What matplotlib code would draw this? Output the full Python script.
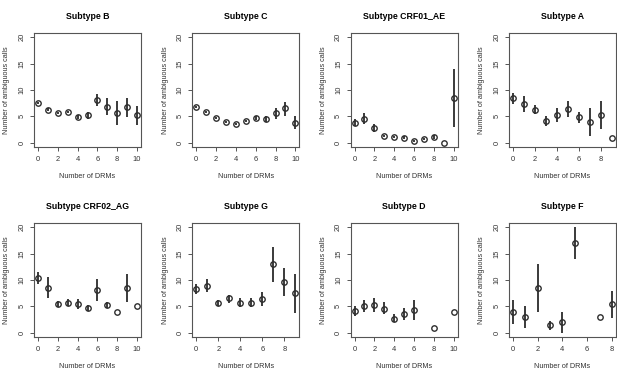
import matplotlib
matplotlib.use("Agg")
import matplotlib.pyplot as plt
import numpy as np

plt.rcParams['font.family'] = ['Liberation Sans', 'DejaVu Sans']

# Number of ambiguous calls by number of DRMs (mean and interval), per subtype
titles = ["Subtype B", "Subtype C", "Subtype CRF01_AE", "Subtype A",
          "Subtype CRF02_AG", "Subtype G", "Subtype D", "Subtype F"]

x_b = [0, 1, 2, 3, 4, 5, 6, 7, 8, 9, 10]
mean_b = [7.5, 6.3, 5.7, 5.9, 4.9, 5.3, 8.2, 6.8, 5.6, 6.8, 5.2]
lo_b = [7.3, 6.0, 5.4, 5.6, 4.6, 4.6, 7.0, 5.2, 3.3, 4.9, 3.4]
hi_b = [7.7, 6.5, 5.9, 6.1, 5.2, 5.9, 9.3, 8.4, 8.0, 8.5, 6.9]

x_c = [0, 1, 2, 3, 4, 5, 6, 7, 8, 9, 10]
mean_c = [6.8, 5.9, 4.7, 4.0, 3.6, 4.2, 4.7, 4.5, 5.6, 6.5, 3.8]
lo_c = [6.6, 5.7, 4.5, 3.8, 3.4, 4.0, 4.4, 3.9, 4.5, 5.1, 2.7]
hi_c = [7.0, 6.1, 4.9, 4.2, 3.8, 4.4, 5.0, 5.0, 6.5, 7.8, 5.0]

x_ae = [0, 1, 2, 3, 4, 5, 6, 7, 8, 9, 10]
mean_ae = [3.8, 4.5, 2.8, 1.3, 1.1, 1.0, 0.4, 0.7, 1.1, 0.0, 8.5]
lo_ae = [3.1, 3.6, 2.1, 1.1, 0.9, 0.8, 0.2, 0.5, 0.8, 0.0, 2.9]
hi_ae = [4.6, 5.6, 3.6, 1.5, 1.3, 1.2, 0.6, 0.9, 1.4, 0.0, 14.0]

x_a = [0, 1, 2, 3, 4, 5, 6, 7, 8, 9]
mean_a = [8.5, 7.4, 6.3, 4.1, 5.2, 6.4, 4.9, 4.0, 5.3, 1.0]
lo_a = [7.4, 5.8, 5.4, 3.2, 4.0, 4.9, 3.7, 1.3, 2.6, 1.0]
hi_a = [9.5, 8.9, 7.1, 5.0, 6.5, 7.9, 5.9, 6.6, 8.0, 1.0]

x_ag = [0, 1, 2, 3, 4, 5, 6, 7, 8, 9, 10]
mean_ag = [10.4, 8.4, 5.4, 5.7, 5.4, 4.7, 8.1, 5.2, 4.0, 8.5, 5.0]
lo_ag = [9.2, 6.5, 4.9, 5.0, 4.5, 4.1, 6.0, 4.7, 4.0, 5.8, 5.0]
hi_ag = [11.6, 10.5, 6.0, 6.4, 6.4, 5.3, 10.1, 5.8, 4.0, 11.2, 5.0]

x_g = [0, 1, 2, 3, 4, 5, 6, 7, 8, 9]
mean_g = [8.3, 8.9, 5.7, 6.5, 5.7, 5.7, 6.4, 13.0, 9.7, 7.5]
lo_g = [7.3, 7.7, 5.0, 5.7, 4.8, 4.9, 5.1, 9.7, 7.0, 3.7]
hi_g = [9.3, 10.1, 6.3, 7.2, 6.5, 6.5, 7.7, 16.2, 12.3, 11.2]

x_d = [0, 1, 2, 3, 4, 5, 6, 8, 10]
mean_d = [4.1, 5.1, 5.3, 4.6, 2.7, 3.6, 4.4, 1.0, 4.0]
lo_d = [3.1, 4.0, 4.0, 3.5, 2.0, 2.4, 2.4, 1.0, 4.0]
hi_d = [5.1, 6.3, 6.6, 5.8, 3.5, 4.7, 6.3, 1.0, 4.0]

x_f = [0, 1, 2, 3, 4, 5, 7, 8]
mean_f = [4.0, 3.0, 8.5, 1.4, 2.0, 17.1, 3.0, 5.5]
lo_f = [1.7, 0.9, 4.0, 0.6, 0.0, 13.9, 3.0, 2.8]
hi_f = [6.3, 5.0, 13.0, 2.2, 4.0, 20.0, 3.0, 8.0]

x_max = [10, 10, 10, 9, 10, 9, 10, 8]

panels = [(x_b, mean_b, lo_b, hi_b), (x_c, mean_c, lo_c, hi_c),
          (x_ae, mean_ae, lo_ae, hi_ae), (x_a, mean_a, lo_a, hi_a),
          (x_ag, mean_ag, lo_ag, hi_ag), (x_g, mean_g, lo_g, hi_g),
          (x_d, mean_d, lo_d, hi_d), (x_f, mean_f, lo_f, hi_f)]

W, H = 617, 380
fig = plt.figure(figsize=(W / 100, H / 100), dpi=100)

frame_col = "#555555"
text_col = "#333333"

for i, (x, m, lo, hi) in enumerate(panels):
    row, col = divmod(i, 4)
    left = 34 + col * 158.3
    top = 33 + row * 190
    ax = fig.add_axes([left / W, 1 - (top + 114) / H, 107 / W, 114 / H])

    x = np.array(x)
    m = np.array(m)
    err = [m - np.array(lo), np.array(hi) - m]
    ax.errorbar(x, m, yerr=err, fmt='none', ecolor="#3a3a3a",
                elinewidth=1.4, capsize=0, zorder=2)
    ax.plot(x, m, 'o', ms=3.9, mfc='none', mec="#2e2e2e", mew=1.0, zorder=3)

    xm = x_max[i]
    ax.set_xlim(-0.04 * xm, xm * 1.04)
    ax.set_ylim(-0.8, 20.8)
    ax.set_xticks(np.arange(0, xm + 1, 2))
    ax.set_yticks([0, 5, 10, 15, 20])

    for s in ax.spines.values():
        s.set_color(frame_col)
        s.set_linewidth(0.8)
    ax.tick_params(axis='both', length=3, width=0.7, color=frame_col,
                   labelsize=5.4, labelcolor=text_col, pad=3.2)
    for lab in ax.get_yticklabels():
        lab.set_rotation(90)
        lab.set_va('center')

    ax.set_title(titles[i], fontsize=6.3, fontweight='bold', pad=10)
    ax.set_xlabel("Number of DRMs", fontsize=5.2, color=text_col)
    ax.set_ylabel("Number of ambiguous calls", fontsize=5.2, color=text_col)
    ax.xaxis.set_label_coords(0.5, -0.23)
    ax.yaxis.set_label_coords(-0.22, 0.5)

plt.savefig("out.png", dpi=100)
